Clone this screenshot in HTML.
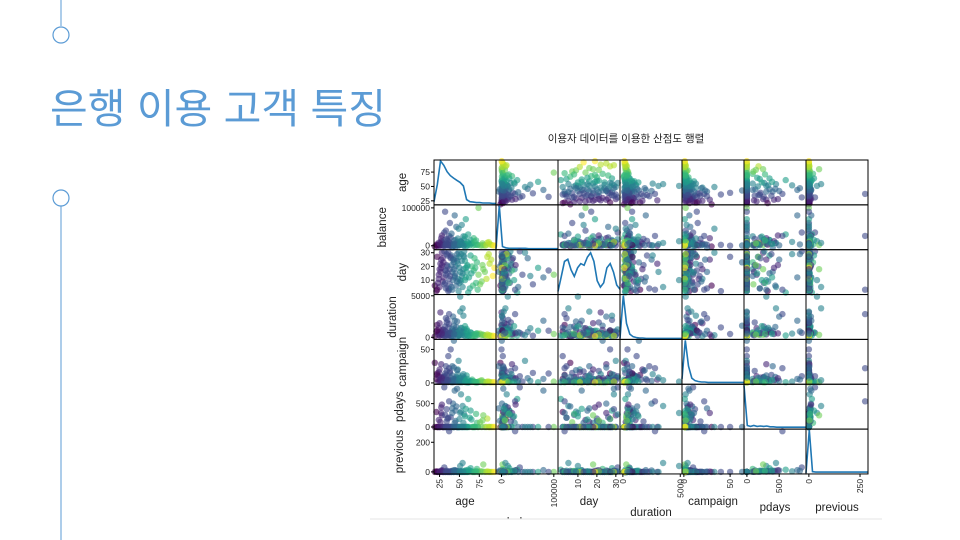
<!DOCTYPE html>
<html><head><meta charset="utf-8"><style>
html,body{margin:0;padding:0;background:#fff;width:960px;height:540px;overflow:hidden}
svg{display:block;font-family:"Liberation Sans","Noto Sans CJK KR",sans-serif}
</style></head><body>
<svg id="s" width="960" height="540">
<line x1="61" y1="0" x2="61" y2="26" stroke="#5b9bd5" stroke-width="1"/>
<circle cx="61" cy="35" r="8" fill="#fff" stroke="#5b9bd5" stroke-width="1.2"/>
<circle cx="61" cy="198" r="8" fill="#fff" stroke="#5b9bd5" stroke-width="1.2"/>
<line x1="61" y1="206" x2="61" y2="540" stroke="#5b9bd5" stroke-width="1"/>
<text x="50" y="123" font-size="41" fill="#5b9bd5">은행 이용 고객 특징</text>
<text x="626" y="142" font-size="10.5" text-anchor="middle" fill="#222">이용자 데이터를 이용한 산점도 행렬</text>
<g id="chart"></g>
<rect x="370" y="519" width="520" height="21" fill="#fff"/>
<line x1="370" y1="519" x2="882" y2="519" stroke="#e6e6e6"/>
</svg>
<script>
const variables=["age","balance","day","duration","campaign","pdays","previous"];
const ranges=[[18,96],[-10500,108000],[-0.5,32.2],[-250,5150],[-2,65],[-45,915],[-14,289]];
const ticks=[[25,50,75],[0,100000],[10,20,30],[0,5000],[0,50],[0,500],[0,250]];
const yTicks=[[25,50,75],[0,100000],[10,20,30],[0,5000],[0,50],[0,500],[0,200]];
const records=[
[25,1200,5,180,2,-1,0],[30,300,12,250,1,-1,0],[35,5000,20,400,3,180,2],[40,800,28,120,1,-1,0],
[45,15000,15,900,4,350,3],[50,2000,8,300,2,-1,0],[55,25000,18,600,6,90,1],[60,500,21,200,1,-1,0],
[22,100,3,1500,12,-1,0],[28,9000,30,700,8,250,5],[33,40000,14,350,2,-1,0],[38,60000,7,200,15,-1,0],
[42,1000,25,2500,3,500,10],[48,3000,11,150,20,-1,0],[52,10000,29,450,2,700,4],[58,70000,19,800,1,-1,0],
[63,1500,4,300,3,200,8],[68,20000,17,100,2,-1,0],[72,3000,23,500,1,90,20],[78,500,9,250,4,-1,0],
[85,8000,27,350,2,180,3],[92,1200,13,200,1,-1,0],[19,-2000,6,100,30,-1,0],[26,0,22,3000,5,-1,0],
[31,35000,31,550,10,850,30],[36,2500,2,1200,40,-1,0],[41,-5000,16,800,25,400,2],[46,50000,26,650,7,-1,0],
[51,12000,10,4900,2,300,40],[57,4000,24,180,3,-1,0],[61,30000,1,220,1,600,15],[66,7000,20,90,5,-1,0],
[74,100000,14,400,2,-1,0],[80,2000,18,300,1,250,50],[29,6000,9,950,9,-1,0],[34,18000,21,1800,18,120,1],
[39,100,27,400,50,-1,0],[44,80000,12,2000,6,780,12],[49,45000,30,250,33,-1,0],[54,7500,5,3500,4,450,60],
[59,200,16,1000,11,-1,0],[64,15000,28,600,2,350,25],[70,2500,19,130,1,-1,0],[76,1000,7,450,3,100,5],
[88,4000,22,260,1,-1,0],[32,90000,17,800,14,-1,0],[37,26000,3,2800,22,550,275],[43,500,23,1400,63,-1,0],
[47,3500,29,700,5,820,7],[53,55000,13,1100,3,-1,0],[27,20000,25,350,28,300,2],[24,700,11,600,16,-1,0],
[45,-3000,20,450,2,130,9],[35,1200,15,250,1,-1,0],[38,600,18,300,2,-1,0],[40,2200,21,220,3,-1,0],
[33,900,17,180,2,-1,0],[50,1800,19,260,1,-1,0],[23,400,8,320,2,-1,0],[29,1500,26,280,3,-1,0],
[36,3000,4,500,2,200,1],[42,700,10,150,1,-1,0],[47,9000,24,380,4,-1,0],[56,1100,27,240,2,-1,0],
[62,6000,12,170,1,-1,0],[67,900,6,320,2,-1,0],[82,300,16,210,1,-1,0],[90,2500,25,150,1,-1,0],
[21,3000,2,700,6,320,4],[24,8000,14,1100,10,150,2],[27,12000,19,400,4,420,6],[30,4000,23,900,7,-1,0],
[32,16000,8,1300,9,260,3],[34,6000,29,600,12,380,8],[37,10000,11,1600,5,-1,0],[39,22000,26,500,8,210,5],
[41,5000,3,1000,11,300,4],[43,14000,18,750,6,-1,0],[46,7000,6,1250,9,440,7],[48,19000,22,550,13,-1,0],
[50,3500,27,850,7,170,2],[52,11000,9,1150,5,330,6],[54,6500,15,680,10,-1,0],[56,17000,31,950,8,270,3],
[58,4500,12,420,4,390,9],[60,9500,20,780,6,-1,0],[26,2000,16,250,3,110,1],[31,1000,7,150,2,-1,0],
[36,500,30,230,4,-1,0],[44,1500,13,330,2,90,1],[49,800,2,190,3,-1,0],[53,2500,24,270,1,-1,0],
[28,27000,21,480,7,480,11],[40,32000,5,620,3,-1,0],[57,24000,10,1350,2,230,8],[35,13000,28,2100,4,-1,0],
[65,5500,15,520,3,160,4],[69,11000,26,380,2,-1,0],[73,2200,3,290,1,-1,0],[79,6500,21,330,2,140,3],
[84,1800,11,240,1,-1,0],[87,9500,29,180,2,-1,0],[94,400,19,130,1,-1,0],[71,14000,8,410,1,280,6],
[22,1600,27,820,14,-1,0],[25,5500,18,1700,20,-1,0],[33,2800,4,2300,25,-1,0],[38,7200,13,560,17,-1,0],
[43,3800,25,390,23,-1,0],[47,1300,9,1900,19,-1,0],[51,4200,16,3100,8,-1,0],[55,900,28,2600,13,-1,0]
];
const kde=[
[0.05,0.45,1.0,0.9,0.75,0.66,0.6,0.55,0.5,0.42,0.1,0.05,0.04,0.03,0.03,0.02,0.02,0.02,0.01,0.01],
[0,1.0,0.05,0.02,0.01,0.01,0.01,0.01,0.01,0.01,0,0,0,0,0,0,0,0,0,0],
[0.05,0.4,0.75,0.8,0.55,0.4,0.6,0.7,0.66,0.85,0.95,0.75,0.3,0.15,0.25,0.6,0.7,0.5,0.2,0.1],
[0,1.0,0.35,0.1,0.04,0.02,0.01,0.01,0,0,0,0,0,0,0,0,0,0,0,0],
[0.1,1.0,0.4,0.12,0.06,0.04,0.03,0.03,0.02,0.02,0.02,0.02,0.02,0.02,0.02,0.02,0.02,0.02,0.02,0.02],
[1.0,0.06,0.04,0.06,0.04,0.05,0.04,0.05,0.03,0.03,0.02,0.02,0.02,0.02,0.02,0.02,0.02,0.02,0.02,0.02],
[0,1.0,0.03,0.02,0.02,0.02,0.02,0.02,0.02,0.02,0.02,0.02,0.02,0.02,0.02,0.02,0.02,0.02,0.02,0.02]
];
const NS="http://www.w3.org/2000/svg";
const chart=document.getElementById("chart");
const L=434,T=160,CW=62,CH=44.85,N=7;
const vir=["#440154","#482878","#3e4989","#31688e","#26828e","#1f9e89","#35b779","#6ece58","#b5de2b","#fde725"];
function color(a){let t=Math.max(0,Math.min(1,(a-18)/(95-18)));return vir[Math.min(9,Math.round(t*9))];}
function sx(j,v){const r=ranges[j];return L+j*CW+(v-r[0])/(r[1]-r[0])*CW;}
function sy(i,v){const r=ranges[i];return T+(i+1)*CH-(v-r[0])/(r[1]-r[0])*CH;}
function mk(tag,attrs){const e=document.createElementNS(NS,tag);for(const k in attrs)e.setAttribute(k,attrs[k]);return e;}
for(let i=0;i<N;i++){for(let j=0;j<N;j++){
 const g=mk("g",{});
 
 
 chart.appendChild(g);
 if(i===j){
  const arr=kde[i];let pts=[];
  for(let k=0;k<arr.length;k++){const x=L+j*CW+k/(arr.length-1)*CW;const y=T+(i+1)*CH-1-arr[k]*(CH-2);pts.push(x.toFixed(1)+","+y.toFixed(1));}
  const p=mk("polyline",{points:pts.join(" "),fill:"none",stroke:"#1f77b4","stroke-width":1.6});
  
  
  g.appendChild(p);
 } else {
  for(const r of records){
   const c=mk("circle",{cx:sx(j,r[j]).toFixed(1),cy:sy(i,r[i]).toFixed(1),r:3.2,fill:color(r[0]),"fill-opacity":0.6});
   
   
   g.appendChild(c);
  }
 }
 const b=mk("rect",{x:L+j*CW,y:T+i*CH,width:CW,height:CH,fill:"none",stroke:"#000","stroke-width":1});
 
 
 g.appendChild(b);
}}
const ylx=[406,386,406,396,406,403,403];
for(let i=0;i<N;i++){
 for(const t of yTicks[i]){
  const y=sy(i,t);
  const tl=mk("text",{x:L-4,y:(y+3).toFixed(1),"font-size":8.5,"text-anchor":"end",fill:"#222"});
  tl.textContent=t;
  
  
  chart.appendChild(tl);
  chart.appendChild(mk("line",{x1:L-3,x2:L,y1:y,y2:y,stroke:"#000"}));
 }
 const cy=T+(i+0.5)*CH;
 const lab=mk("text",{x:ylx[i],y:cy,"font-size":11.5,"text-anchor":"middle",fill:"#222",transform:"rotate(-90 "+ylx[i]+" "+cy+")"});
 lab.textContent=variables[i];
 
 
 chart.appendChild(lab);
}
const xly=[505,526,505,516,505,511,511];
const by=T+N*CH;
for(let j=0;j<N;j++){
 for(const t of ticks[j]){
  const x=sx(j,t);
  chart.appendChild(mk("line",{x1:x,x2:x,y1:by,y2:by+3,stroke:"#000"}));
  const tl=mk("text",{x:x+3,y:by+5,"font-size":8.5,"text-anchor":"end",fill:"#222",transform:"rotate(-90 "+(x+3)+" "+(by+5)+")"});
  tl.textContent=t;
  
  
  chart.appendChild(tl);
 }
 const cx=L+(j+0.5)*CW;
 const lab=mk("text",{x:cx,y:xly[j],"font-size":11.5,"text-anchor":"middle",fill:"#222"});
 lab.textContent=variables[j];
 
 
 chart.appendChild(lab);
}
</script>
</body></html>
